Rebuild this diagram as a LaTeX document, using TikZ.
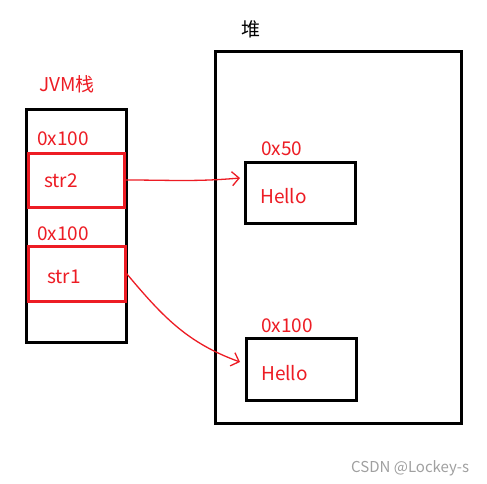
\documentclass[tikz,border=0pt]{standalone}
\usepackage{fontspec}
\setmainfont{Noto Sans CJK SC}
\usetikzlibrary{arrows.meta}
\definecolor{paintred}{RGB}{237,28,36}
\definecolor{markgray}{RGB}{160,160,160}
\tikzset{
  blackbox/.style={draw=black, line width=3pt, inner sep=0pt},
  redbox/.style={draw=paintred, line width=3pt, inner sep=0pt},
  redlabel/.style={text=paintred, font=\fontsize{19}{22}\selectfont, inner sep=0pt, anchor=base west},
  pointer/.style={draw=paintred, line width=1.3pt, -{Straight Barb[length=7pt,width=14pt]}},
}
\begin{document}
\begin{tikzpicture}[x=1pt,y=-1pt]
\useasboundingbox[fill=white] (0,0) rectangle (487,484);

% stack
\node[blackbox, minimum width=100, minimum height=232] (stack) at (76,226) {};
\node[redbox, minimum width=96, minimum height=54] (str2) at (76,180) {};
\node[redbox, minimum width=97, minimum height=55] (str1) at (76.5,273.5) {};
\node[redlabel] (stacklabel) at (39,92) {JVM栈};
\node[redlabel] (addr2) at (37,146) {0x100};
\node[redlabel] (addr1) at (37,240) {0x100};
\node[redlabel] (name2) at (44,187) {str2};
\node[redlabel] (name1) at (47,283) {str1};

% heap
\node[blackbox, minimum width=246, minimum height=371] (heap) at (338,237.5) {};
\node[redlabel, text=black] (heaplabel) at (241,37) {堆};
\node[blackbox, minimum width=110, minimum height=61] (hello1) at (300,192.5) {};
\node[blackbox, minimum width=110, minimum height=62] (hello2) at (301,369) {};
\node[redlabel] (haddr1) at (261,155) {0x50};
\node[redlabel] (haddr2) at (261,332) {0x100};
\node[redlabel] (htext1) at (260,203) {Hello};
\node[redlabel] (htext2) at (261,380) {Hello};

% pointers
\coordinate (tip1) at (240,178);
\coordinate (tip2) at (240,362);
\draw[pointer] (str2.east) to[out=0,in=185] (tip1);
\draw[pointer] (str1.east) to[out=-50,in=160] (tip2);

\node[redlabel, text=markgray, font=\fontsize{15}{18}\selectfont] (mark) at (351,472) {CSDN @Lockey-s};
\end{tikzpicture}
\end{document}
